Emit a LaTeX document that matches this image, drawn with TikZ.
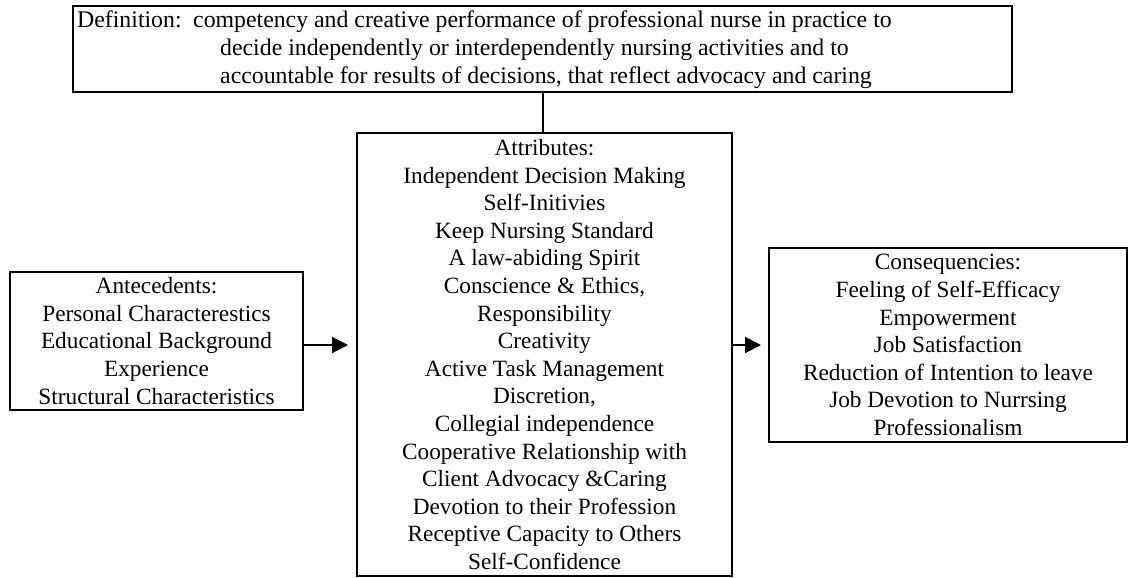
\documentclass[tikz,border=0pt]{standalone}
\usepackage{fontspec}
\setmainfont{Liberation Serif}
\usetikzlibrary{arrows.meta}
\begin{document}
\begin{tikzpicture}[x=1pt,y=-1pt,
  box/.style={draw,line width=2pt,rectangle,inner sep=0pt,align=center},
  arr/.style={line width=2pt,-{Triangle[length=16pt,width=16pt]}},
  listfont/.style={font=\fontsize{23.3}{27.6}\selectfont},
  defline/.style={anchor=base west,inner sep=0pt,font=\fontsize{23.8}{28}\selectfont}]
\useasboundingbox (0,0) rectangle (1130,578);

% definition box and its three text lines
\node[box,minimum width=939pt,minimum height=86pt] (def) at (542.5,49) {};
\node[defline] (d1) at (77,28) {\makebox[116pt][l]{Definition:}competency and creative performance of professional nurse in practice to};
\node[defline] (d2) at (220,56) {decide independently or interdependently nursing activities and to};
\node[defline] (d3) at (220,84) {accountable for results of decisions, that reflect advocacy and caring};

% attributes
\node[box,listfont,minimum width=375pt,minimum height=443pt] (attr) at (544.5,354.5) {Attributes:\\
Independent Decision Making\\
Self-Initivies\\
Keep Nursing Standard\\
A law-abiding Spirit\\
Conscience \& Ethics,\\
Responsibility\\
Creativity\\
Active Task Management\\
Discretion,\\
Collegial independence\\
Cooperative Relationship with\\
Client Advocacy \&Caring\\
Devotion to their Profession\\
Receptive Capacity to Others\\
Self-Confidence};

% antecedents
\node[box,listfont,minimum width=293pt,minimum height=138pt] (ante) at (156.5,341) {Antecedents:\\
Personal Characterestics\\
Educational Background\\
Experience\\
Structural Characteristics};

% consequences
\node[box,listfont,minimum width=358pt,minimum height=194pt] (cons) at (948,345) {Consequencies:\\
Feeling of Self-Efficacy\\
Empowerment\\
Job Satisfaction\\
Reduction of Intention to leave\\
Job Devotion to Nurrsing\\
Professionalism};

% connectors
\coordinate (lvl) at (0,345);
\draw[line width=2pt] (def.south) -- (def.south |- attr.north);
\draw[arr,shorten >=8pt] (ante.east |- lvl) -- (attr.west |- lvl);
\draw[arr,shorten >=7pt] (attr.east |- lvl) -- (cons.west |- lvl);
\end{tikzpicture}
\end{document}
